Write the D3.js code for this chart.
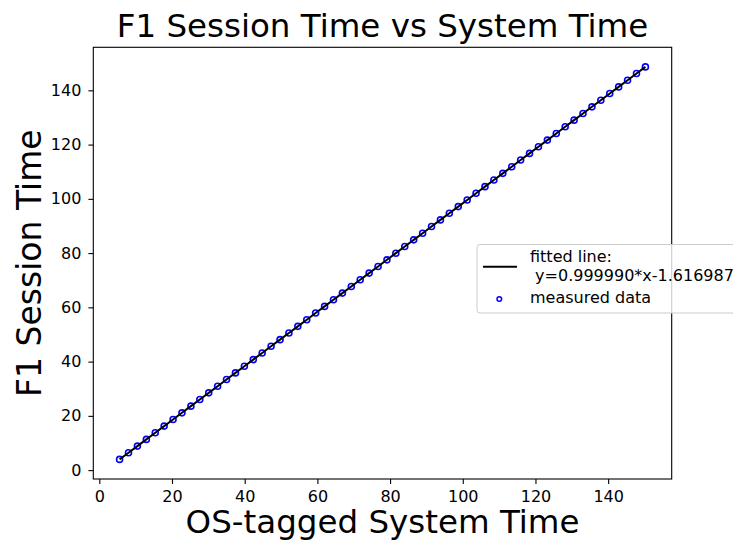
<!DOCTYPE html>
<html>
<head>
<meta charset="utf-8">
<script src="https://cdn.jsdelivr.net/npm/d3@7"></script>
<style>
  body { margin: 0; background: #fff; }
  svg { font-family: "DejaVu Sans", sans-serif; display: block; }
</style>
</head>
<body>
<div id="canvas"></div>
<script>
// measured data (OS-tagged system time vs F1 session time)
const systemTime = [5.58, 8.03, 10.48, 12.94, 15.39, 17.84, 20.29, 22.74, 25.20, 27.65,
  30.10, 32.55, 35.00, 37.46, 39.91, 42.36, 44.81, 47.26, 49.72, 52.17,
  54.62, 57.07, 59.52, 61.98, 64.43, 66.88, 69.33, 71.78, 74.24, 76.69,
  79.14, 81.59, 84.04, 86.50, 88.95, 91.40, 93.85, 96.30, 98.76, 101.21,
  103.66, 106.11, 108.56, 111.02, 113.47, 115.92, 118.37, 120.82, 123.28, 125.73,
  128.18, 130.63, 133.08, 135.54, 137.99, 140.44, 142.89, 145.34, 147.80, 150.25];
const sessionTime = [3.96, 6.41, 8.86, 11.32, 13.77, 16.22, 18.67, 21.12, 23.58, 26.03,
  28.48, 30.93, 33.38, 35.84, 38.29, 40.74, 43.19, 45.64, 48.10, 50.55,
  53.00, 55.45, 57.90, 60.36, 62.81, 65.26, 67.71, 70.16, 72.62, 75.07,
  77.52, 79.97, 82.42, 84.88, 87.33, 89.78, 92.23, 94.68, 97.14, 99.59,
  102.04, 104.49, 106.94, 109.40, 111.85, 114.30, 116.75, 119.20, 121.66, 124.11,
  126.56, 129.01, 131.46, 133.92, 136.37, 138.82, 141.27, 143.72, 146.18, 148.63];
const fitSlope = 0.999990;
const fitIntercept = -1.616987;
const xTicks = [0, 20, 40, 60, 80, 100, 120, 140];
const yTicks = [0, 20, 40, 60, 80, 100, 120, 140];

const width = 733;
const height = 541;
const margin = { top: 47.3, left: 93.3, bottom: 62, right: 61.3 };
const iwidth = width - margin.left - margin.right;
const iheight = height - margin.top - margin.bottom;

const svg = d3.select("#canvas").append("svg")
  .attr("width", width)
  .attr("height", height);

// matplotlib style 5% margins
const xExt = d3.extent(systemTime);
const yExt = d3.extent(sessionTime);
const xPad = (xExt[1] - xExt[0]) * 0.05;
const yPad = (yExt[1] - yExt[0]) * 0.05;

const x = d3.scaleLinear().domain([xExt[0] - xPad, xExt[1] + xPad]).range([0, iwidth]);
const y = d3.scaleLinear().domain([yExt[0] - yPad, yExt[1] + yPad]).range([iheight, 0]);

const g = svg.append("g").attr("transform", `translate(${margin.left},${margin.top})`);

// measured points
const pts = systemTime.map((d, i) => ({ x: d, y: sessionTime[i] }));
g.selectAll("circle.pt")
  .data(pts)
  .enter()
  .append("circle")
  .attr("class", "pt")
  .attr("cx", (d) => x(d.x))
  .attr("cy", (d) => y(d.y))
  .attr("r", 3)
  .attr("fill", "none")
  .attr("stroke", "#0000ff")
  .attr("stroke-width", 1.6);

// fitted line on top
const line = d3.line()
  .x((d) => x(d))
  .y((d) => y(fitSlope * d + fitIntercept));
g.append("path")
  .datum(systemTime)
  .attr("d", line)
  .attr("fill", "none")
  .attr("stroke", "#000")
  .attr("stroke-width", 2);

// axes
const xAxis = g.append("g")
  .attr("transform", `translate(0,${iheight})`)
  .call(d3.axisBottom(x).tickValues(xTicks).tickSize(4.9).tickPadding(7.2).tickSizeOuter(0));
const yAxis = g.append("g")
  .call(d3.axisLeft(y).tickValues(yTicks).tickSize(4.9).tickPadding(7).tickSizeOuter(0));
[xAxis, yAxis].forEach((a) => {
  a.select(".domain").remove();
  a.selectAll(".tick line").attr("stroke", "#000").attr("stroke-width", 1.1);
  a.selectAll(".tick text")
    .attr("fill", "#000")
    .style("font-size", "16px")
    .style("font-family", "DejaVu Sans");
});

// frame
g.append("rect")
  .attr("width", iwidth)
  .attr("height", iheight)
  .attr("fill", "none")
  .attr("stroke", "#000")
  .attr("stroke-width", 1.1);

// titles
svg.append("text")
  .attr("x", margin.left + iwidth / 2)
  .attr("y", 36.5)
  .attr("text-anchor", "middle")
  .style("font-size", "32.5px")
  .text("F1 Session Time vs System Time");

svg.append("text")
  .attr("x", margin.left + iwidth / 2)
  .attr("y", 533)
  .attr("text-anchor", "middle")
  .style("font-size", "32.5px")
  .text("OS-tagged System Time");

svg.append("text")
  .attr("transform", `translate(41,${margin.top + iheight / 2}) rotate(-90)`)
  .attr("text-anchor", "middle")
  .style("font-size", "33px")
  .text("F1 Session Time");

// legend
const lg = svg.append("g").attr("transform", "translate(477,244.5)");
lg.append("rect")
  .attr("width", 290)
  .attr("height", 68.5)
  .attr("rx", 3)
  .attr("fill", "#fff")
  .attr("fill-opacity", 0.8)
  .attr("stroke", "#cccccc")
  .attr("stroke-width", 1);
lg.append("line")
  .attr("x1", 6).attr("x2", 40)
  .attr("y1", 22.2).attr("y2", 22.2)
  .attr("stroke", "#000")
  .attr("stroke-width", 2);
lg.append("text")
  .attr("x", 53).attr("y", 17.5)
  .style("font-size", "16px")
  .text("fitted line:");
lg.append("text")
  .attr("x", 53).attr("y", 36)
  .style("font-size", "16px")
  .style("white-space", "pre")
  .text(" y=" + fitSlope.toFixed(6) + "*x" + fitIntercept.toFixed(6));
lg.append("circle")
  .attr("cx", 22.3).attr("cy", 54.5)
  .attr("r", 2.3)
  .attr("fill", "none")
  .attr("stroke", "#0000ff")
  .attr("stroke-width", 1.5);
lg.append("text")
  .attr("x", 53).attr("y", 58.5)
  .style("font-size", "16px")
  .text("measured data");
</script>
</body>
</html>
